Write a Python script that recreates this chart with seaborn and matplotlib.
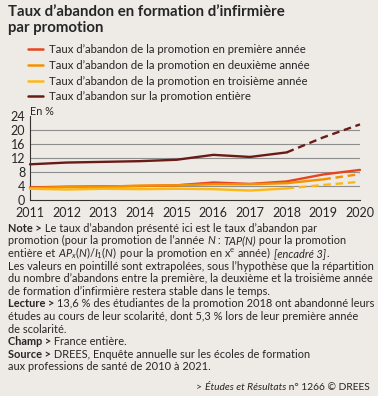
import matplotlib
matplotlib.use("Agg")
import matplotlib.pyplot as plt
import seaborn as sns
import pandas as pd
from matplotlib.lines import Line2D

# Data (in %)
years = list(range(2011, 2021))
first_year = [3.6, 3.8, 3.9, 4.0, 4.2, 5.0, 4.6, 5.3, 7.3, 8.6]
second_year = [3.4, 3.7, 3.8, 4.1, 4.2, 4.5, 4.5, 4.8, 5.9, 7.4]
third_year = [3.2, 3.0, 3.2, 3.1, 3.2, 3.1, 2.7, 3.3, 4.3, 5.2]
whole_promo = [10.2, 10.7, 10.9, 11.1, 11.5, 12.9, 12.3, 13.6, 17.9, 21.6]
# last observed year, after that the values are extrapolated (dashed)
last_observed = [2020, 2019, 2018, 2018]

labels = [
    "Taux d’abandon de la promotion en première année",
    "Taux d’abandon de la promotion en deuxième année",
    "Taux d’abandon de la promotion en troisième année",
    "Taux d’abandon sur la promotion entière",
]
colors = ["#E8441E", "#F39200", "#FDB813", "#6B1B16"]
y_ticks = [0, 4, 8, 12, 16, 20, 24]

BG = "#EEEBE6"
TXT = "#262626"
W, H = 378, 396

sns.set_theme(style="white")
plt.rcParams["font.family"] = ["Lato", "DejaVu Sans"]
plt.rcParams["mathtext.fontset"] = "custom"
plt.rcParams["mathtext.rm"] = "Lato"
plt.rcParams["mathtext.it"] = "Lato:italic"
plt.rcParams["mathtext.bf"] = "Lato:bold"

fig = plt.figure(figsize=(W / 100, H / 100), dpi=100, facecolor=BG)
ax = fig.add_axes([30 / W, 1 - 200 / H, 330 / W, 84 / H])
ax.set_facecolor(BG)

series = [first_year, second_year, third_year, whole_promo]
for values, color, last in zip(series, colors, last_observed):
    df = pd.DataFrame({"year": years, "rate": values})
    solid = df[df["year"] <= last]
    dashed = df[df["year"] >= last]
    sns.lineplot(data=solid, x="year", y="rate", ax=ax, color=color, lw=1.7,
                 legend=False, clip_on=False, zorder=3)
    if len(dashed) > 1:
        sns.lineplot(data=dashed, x="year", y="rate", ax=ax, color=color, lw=1.7,
                     linestyle=(0, (3.2, 2.0)), legend=False, clip_on=False, zorder=3)

for y in y_ticks[1:-1]:
    ax.axhline(y, color="#8e8e8e", lw=0.8, zorder=1)

ax.set_xlim(2011, 2020)
ax.set_ylim(0, 24)
ax.set_xticks(years)
ax.set_yticks(y_ticks)
ax.set_xlabel("")
ax.set_ylabel("")
for s in ["top", "right"]:
    ax.spines[s].set_visible(False)
for s in ["left", "bottom"]:
    ax.spines[s].set_color("#333333")
    ax.spines[s].set_linewidth(0.8)
ax.tick_params(axis="x", length=3, width=0.8, color="#333333", pad=2,
               labelsize=9, labelcolor=TXT, direction="out")
ax.tick_params(axis="y", length=0, pad=3.5, labelsize=9, labelcolor=TXT)
ax.text(0.0, 1.05, "En %", transform=ax.transAxes, fontsize=7.8, color=TXT,
        ha="left", va="center")

# Title
fig.text(8 / W, 1 - 5 / H, "Taux d’abandon en formation d’infirmière\npar promotion",
         fontsize=10.8, fontweight="bold", color=TXT, va="top", linespacing=1.15)

# Legend
handles = [Line2D([0], [0], color=c, lw=1.8) for c in colors]
fig.legend(handles, labels, loc="upper left", bbox_to_anchor=(28 / W, 1 - 44 / H),
           frameon=False, fontsize=8.2, handlelength=1.35, handletextpad=0.5,
           labelspacing=0.42, borderpad=0, borderaxespad=0, labelcolor=TXT)

# Notes below the chart, written segment by segment (bold / italic parts)
renderer = fig.canvas.get_renderer()
styles = {"r": {}, "b": {"fontweight": "bold"}, "i": {"fontstyle": "italic"}}


def seg_width(txt, style, size):
    # pad with "x" so spaces at the ends are measured too
    t1 = fig.text(0, 0, "x" + txt + "x", fontsize=size, **styles[style])
    t2 = fig.text(0, 0, "xx", fontsize=size, **styles[style])
    w = t1.get_window_extent(renderer).width - t2.get_window_extent(renderer).width
    t1.remove()
    t2.remove()
    return w


def write_line(x_px, base_px, segments, size, ha="left"):
    widths = [seg_width(t, s, size) for t, s in segments]
    x = x_px if ha == "left" else x_px - sum(widths)
    for (t, s), w in zip(segments, widths):
        fig.text(x / W, 1 - base_px / H, t, fontsize=size, color=TXT,
                 va="baseline", ha="left", **styles[s])
        x += w


note_lines = [
    [("Note >", "b"), (" Le taux d’abandon présenté ici est le taux d’abandon par", "r")],
    [("promotion (pour la promotion de l’année ", "r"), ("N", "i"), (" : ", "r"),
     ("TAP(N)", "i"), (" pour la promotion", "r")],
    [("entière et ", "r"), (r"$AP_x(N)/I_1(N)$", "r"),
     (r" pour la promotion en x$^{\mathrm{e}}$ année) ", "r"), ("[encadré 3]", "i"), (".", "r")],
    [("Les valeurs en pointillé sont extrapolées, sous l’hypothèse que la répartition", "r")],
    [("du nombre d’abandons entre la première, la deuxième et la troisième année", "r")],
    [("de formation d’infirmière restera stable dans le temps.", "r")],
    [("Lecture >", "b"), (" 13,6 % des étudiantes de la promotion 2018 ont abandonné leurs", "r")],
    [("études au cours de leur scolarité, dont 5,3 % lors de leur première année", "r")],
    [("de scolarité.", "r")],
    [("Champ >", "b"), (" France entière.", "r")],
    [("Source >", "b"), (" DREES, Enquête annuelle sur les écoles de formation", "r")],
    [("aux professions de santé de 2010 à 2021.", "r")],
]
for i, line in enumerate(note_lines):
    write_line(8, 231.8 + i * 12.6, line, 7.9)

write_line(370, 390, [("> ", "r"), ("Études et Résultats", "i"),
                      (" n° 1266 © DREES", "r")], 7.4, ha="right")

fig.savefig("out.png", dpi=100, facecolor=BG)
